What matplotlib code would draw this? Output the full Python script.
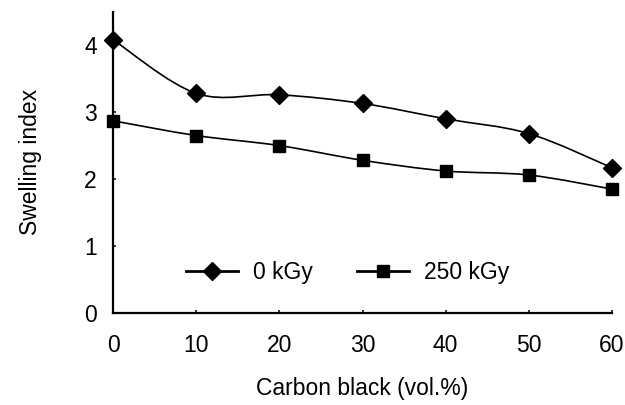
import matplotlib
matplotlib.use("Agg")
import matplotlib.pyplot as plt
from matplotlib.path import Path
from matplotlib.patches import PathPatch
from matplotlib.lines import Line2D
import numpy as np

plt.rcParams['font.family'] = ['Liberation Sans', 'DejaVu Sans']

carbon_black = [0, 10, 20, 30, 40, 50, 60]
swell_0kgy = [4.08, 3.28, 3.26, 3.13, 2.90, 2.68, 2.17]
swell_250kgy = [2.87, 2.65, 2.50, 2.28, 2.12, 2.06, 1.85]
series_labels = ["0 kGy", "250 kGy"]
x_ticks = [0, 10, 20, 30, 40, 50, 60]
y_ticks = [0, 1, 2, 3, 4]

FS = 16.5


def smooth_path(xs, ys, t=1/6):
    p = np.column_stack([xs, ys]).astype(float)
    n = len(p)
    verts = [p[0]]
    codes = [Path.MOVETO]
    for i in range(n - 1):
        p0 = p[i - 1] if i > 0 else p[i]
        p1 = p[i]
        p2 = p[i + 1]
        p3 = p[i + 2] if i + 2 < n else p[i + 1]
        c1 = p1 + (p2 - p0) * t
        c2 = p2 - (p3 - p1) * t
        verts += [c1, c2, p2]
        codes += [Path.CURVE4] * 3
    return Path(verts, codes)


fig = plt.figure(figsize=(6.25, 4.05), dpi=100)
ax = fig.add_axes([0.1813, 0.2279, 0.7974, 0.7428])

for ys, mk, ms in [(swell_0kgy, 'D', 8.8), (swell_250kgy, 's', 9)]:
    ax.add_patch(PathPatch(smooth_path(carbon_black, ys), fill=False,
                           edgecolor='black', lw=1.2, zorder=2))
    ax.plot(carbon_black, ys, linestyle='none', marker=mk, markersize=ms,
            color='black', zorder=3, clip_on=False)

ax.set_xlim(0, 60)
ax.set_ylim(0, 4.5)
ax.set_xticks(x_ticks)
ax.set_yticks(y_ticks)
for s in ['top', 'right']:
    ax.spines[s].set_visible(False)
for s in ['left', 'bottom']:
    ax.spines[s].set_linewidth(1.6)
ax.tick_params(axis='both', direction='in', length=2.5, width=1.1,
               labelsize=FS)
ax.tick_params(axis='x', pad=15)
ax.tick_params(axis='y', pad=12)
ax.set_xlabel("Carbon black (vol.%)", fontsize=FS, labelpad=15)
ax.set_ylabel("Swelling index", fontsize=FS, labelpad=30)

handles = [Line2D([], [], color='black', lw=2, marker='D', markersize=8.8),
           Line2D([], [], color='black', lw=2, marker='s', markersize=9)]
ax.legend(handles, series_labels, loc='center', bbox_to_anchor=(0.47, 0.132),
          ncol=2, frameon=False, fontsize=FS, handlelength=2.3,
          columnspacing=1.9, handletextpad=0.65)

fig.savefig("out.png", dpi=100)
